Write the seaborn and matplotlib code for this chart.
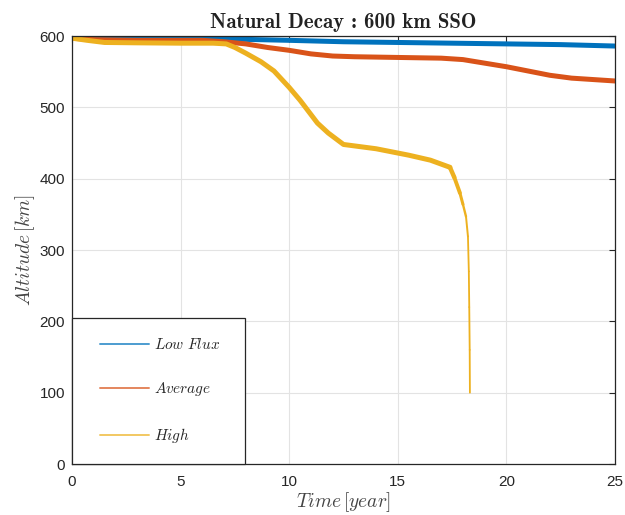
import os
import numpy as np
import pandas as pd
import seaborn as sns
import matplotlib
matplotlib.use("Agg")
import matplotlib.pyplot as plt
from matplotlib.lines import Line2D
from matplotlib.font_manager import FontProperties
from matplotlib.legend_handler import HandlerLine2D

# Altitude histories (km) against time (years) for three solar-flux scenarios
low_time = [0, 2, 5, 7, 10, 12.5, 15, 17.5, 20, 22.5, 25]
low_alt = [598, 597.5, 597, 596, 594, 592, 591, 590, 589, 588, 586]

avg_time = [0, 1, 3, 6, 7, 8, 9, 10, 11, 12, 13, 15, 17, 18, 19, 20, 21, 22, 23, 25]
avg_alt = [597, 595, 594, 594, 592, 589, 584, 580, 575, 572, 571, 570, 569, 567,
           562, 557, 551, 545, 541, 537]

high_time = [0, 0.7, 1.5, 3, 5, 6.5, 7.1, 7.5, 8, 8.7, 9.3, 10, 10.5, 11, 11.3,
             11.8, 12.5, 14, 15.5, 16.5, 17.4]
high_alt = [597, 594, 591, 590.5, 590, 590, 589, 584, 576, 564, 551, 528, 510, 490,
            478, 464, 448, 442, 433, 426, 416]

# final re-entry plunge of the high-flux case
reentry_time = [17.4, 17.6, 17.86, 18.0, 18.14, 18.23, 18.27, 18.29, 18.31, 18.32]
reentry_alt = [416, 402, 380, 364, 347, 319, 270, 220, 160, 100]

labels = ["Low Flux", "Average", "High"]
colors = ["#0072BD", "#D95319", "#EDB120"]

x_ticks = [0, 5, 10, 15, 20, 25]
y_ticks = [0, 100, 200, 300, 400, 500, 600]

sns.set_style("white")
plt.rcParams["mathtext.fontset"] = "cm"
plt.rcParams["font.family"] = ["Liberation Sans", "DejaVu Sans"]

title_font = FontProperties(
    fname=os.path.join(matplotlib.get_data_path(), "fonts", "ttf", "cmb10.ttf"),
    size=15)

frames = []
for name, t, a in [(labels[0], low_time, low_alt),
                   (labels[1], avg_time, avg_alt),
                   (labels[2], high_time, high_alt)]:
    frames.append(pd.DataFrame({"time": t, "altitude": a, "case": name}))
df = pd.concat(frames, ignore_index=True)

fig = plt.figure(figsize=(6.25, 5.15), dpi=100)
ax = fig.add_axes([0.1152, 0.099, 0.8688, 0.831])

sns.lineplot(data=df, x="time", y="altitude", hue="case", hue_order=labels,
             palette=colors, linewidth=3.6, estimator=None, sort=False,
             legend=False, ax=ax)

# re-entry drawn with a tapering stroke
rt = np.array(reentry_time)
ra = np.array(reentry_alt)
widths = [3.2, 2.8, 2.2, 1.7, 1.4, 1.3, 1.3, 1.3, 1.3]
for i in range(len(rt) - 1):
    seg = pd.DataFrame({"time": rt[i:i + 2], "altitude": ra[i:i + 2]})
    sns.lineplot(data=seg, x="time", y="altitude", color=colors[2],
                 linewidth=widths[i], estimator=None, sort=False, ax=ax,
                 solid_capstyle="round")

ax.set_xlim(0, 25)
ax.set_ylim(0, 600)
ax.set_xticks(x_ticks)
ax.set_yticks(y_ticks)
ax.grid(True, color="#e3e3e3", linewidth=0.8)
ax.set_axisbelow(True)
for s in ax.spines.values():
    s.set_color("#262626")
    s.set_linewidth(0.9)
ax.tick_params(direction="in", length=4, width=0.8, color="#262626",
               labelsize=11, labelcolor="#262626", top=True, right=True)
ax.tick_params(axis="x", pad=8)
ax.tick_params(axis="y", pad=5)

ax.set_xlabel(r"$Time\,[year]$", fontsize=14, color="#444444", labelpad=1)
ax.set_ylabel(r"$Altitude\,[km]$", fontsize=14, color="#444444", labelpad=2)
ax.set_title("Natural Decay : 600 km SSO", fontproperties=title_font,
             color="#222222", pad=6)

handles = [Line2D([0], [0], color=c, lw=1.4, alpha=0.7) for c in colors]
leg_labels = [r"$Low\ Flux$", r"$Average$", r"$High$"]
leg = ax.legend(handles, leg_labels, loc="lower left",
                bbox_to_anchor=(0.0, 0.0, 0.319, 0.33), mode="expand",
                fontsize=11, frameon=True, fancybox=False, framealpha=1,
                edgecolor="#262626", labelspacing=1.82, borderpad=1.25,
                handlelength=3.82, handletextpad=0.3, borderaxespad=0,
                handler_map={Line2D: HandlerLine2D(xpad=0.55)})
leg.get_frame().set_linewidth(0.9)

fig.savefig("out.png", dpi=100)
